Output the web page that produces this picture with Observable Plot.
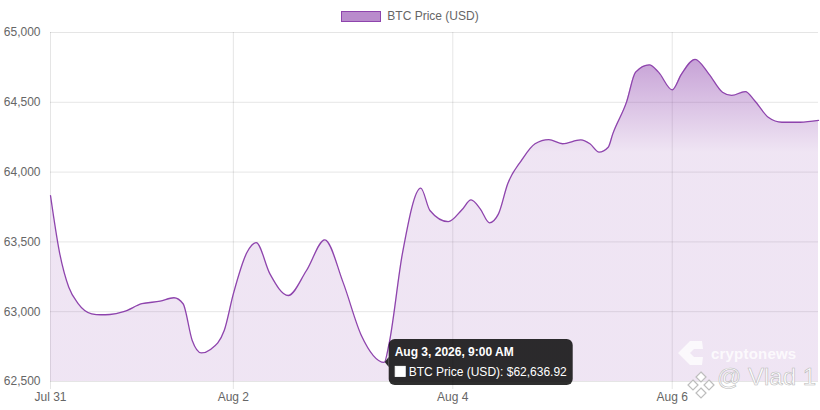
<!DOCTYPE html>
<html>
<head>
<meta charset="utf-8">
<script src="https://cdn.jsdelivr.net/npm/d3@7"></script>
<script src="https://cdn.jsdelivr.net/npm/@observablehq/plot@0.6"></script>
<style>
  html, body { margin: 0; padding: 0; background: #fff; }
  body { width: 820px; height: 410px; position: relative; overflow: hidden;
         font-family: "Liberation Sans", Arial, Helvetica, sans-serif; }
  #legend { height: 20px; padding-top: 6px; display: flex; justify-content: center; align-items: center;
            font-size: 12px; color: #666; }
  #legend .sw { width: 38px; height: 9px; background: rgba(142, 68, 173, 0.62);
                border: 1.5px solid #8e44ad; margin-right: 6px; }
  #chart svg { display: block; }
  #wm { position: absolute; left: 0; top: 0; width: 820px; height: 410px; pointer-events: none; }
  #wm .cn { position: absolute; left: 711px; top: 345px; font-size: 15px; font-weight: bold;
            color: rgba(255,255,255,0.8); letter-spacing: 0.2px; }
  #wm .vl { position: absolute; left: 717px; top: 363px; font-size: 24px; color: #fff;
            -webkit-text-stroke: 0.6px #b9b9b9; }
</style>
</head>
<body>
<div id="legend"><div class="sw"></div><span>BTC Price (USD)</span></div>
<div id="chart"></div>
<div id="wm">
  <svg width="820" height="410" style="position:absolute;left:0;top:0">
    <path d="M690,341 L702,341 L703,349 L694,349 L690,353 L694,357 L703,357 L702,365 L690,365 L678,353 Z" fill="rgba(255,255,255,0.75)"/>
    <g fill="none" stroke="#bdbdbd" stroke-width="1.2">
      <path d="M701,372 L706,377 L701,382 L696,377 Z" fill="#fff"/>
      <path d="M701,388 L706,393 L701,398 L696,393 Z" fill="#fff"/>
      <path d="M693,380 L698,385 L693,390 L688,385 Z" fill="#fff"/>
      <path d="M709,380 L714,385 L709,390 L704,385 Z" fill="#fff"/>
    </g>
  </svg>
  <div class="cn">cryptonews</div>
  <div class="vl">@ Vlad 1</div>
</div>
<script>
// ---- Data ----
const times = [
  "2026-07-31 08:00","2026-07-31 10:00","2026-07-31 12:00","2026-07-31 14:00","2026-07-31 17:00",
  "2026-07-31 19:00","2026-07-31 21:00","2026-08-01 00:00","2026-08-01 04:00","2026-08-01 08:00",
  "2026-08-01 11:00","2026-08-01 13:00","2026-08-01 15:00","2026-08-01 17:00","2026-08-01 19:00",
  "2026-08-01 22:00","2026-08-02 00:00","2026-08-02 03:00","2026-08-02 05:00","2026-08-02 08:00",
  "2026-08-02 12:00","2026-08-02 16:00","2026-08-02 20:00","2026-08-03 00:00","2026-08-03 04:00",
  "2026-08-03 09:00","2026-08-03 10:00","2026-08-03 13:00","2026-08-03 17:00","2026-08-03 19:00",
  "2026-08-03 23:00","2026-08-04 02:00","2026-08-04 04:00","2026-08-04 06:00","2026-08-04 08:00",
  "2026-08-04 10:00","2026-08-04 12:00","2026-08-04 15:00","2026-08-04 18:00","2026-08-04 21:00",
  "2026-08-05 00:00","2026-08-05 04:00","2026-08-05 06:00","2026-08-05 08:00","2026-08-05 10:00",
  "2026-08-05 11:00","2026-08-05 14:00","2026-08-05 16:00","2026-08-05 19:00","2026-08-05 21:00",
  "2026-08-06 00:00","2026-08-06 02:00","2026-08-06 05:00","2026-08-06 08:00","2026-08-06 11:00",
  "2026-08-06 13:00","2026-08-06 16:00","2026-08-06 18:00","2026-08-06 21:00","2026-08-07 00:00",
  "2026-08-07 04:00","2026-08-07 08:00"
];
const prices = [
  63832, 63420, 63175, 63060, 62985,
  62978, 62980, 63000, 63057, 63075,
  63100, 63057, 62794, 62705, 62730,
  62865, 63128, 63426, 63495, 63271,
  63116, 63295, 63515, 63210, 62830,
  62636.92, 62760, 63420, 63885, 63725,
  63645, 63730, 63801, 63737, 63637,
  63701, 63915, 64083, 64203, 64233,
  64203, 64231, 64203, 64143, 64178,
  64274, 64501, 64716, 64768, 64716,
  64589, 64700, 64807, 64704, 64572,
  64549, 64577, 64513, 64393, 64357,
  64357, 64370
];
const yTicks = [62500, 63000, 63500, 64000, 64500, 65000];
const xTickTimes = ["2026-07-31 08:00", "2026-08-02 00:00", "2026-08-04 00:00", "2026-08-06 00:00"];
const xTickLabels = ["Jul 31", "Aug 2", "Aug 4", "Aug 6"];
const seriesName = "BTC Price (USD)";
const tooltipTime = "2026-08-03 09:00";
const gradTopValue = 65000, gradBottomValue = 64140;

// ---- Build ----
const parse = d3.timeParse("%Y-%m-%d %H:%M");
const data = times.map((t, i) => ({date: parse(t), price: prices[i]}));
const xTicks = xTickTimes.map(parse);
const labelOf = new Map(xTicks.map((d, i) => [+d, xTickLabels[i]]));
const font = '"Liberation Sans", Arial, Helvetica, sans-serif';

const chart = Plot.plot({
  width: 820,
  height: 384,
  marginTop: 6,
  marginBottom: 29,
  marginLeft: 50,
  marginRight: 2,
  style: {fontFamily: font, fontSize: "12px", color: "#666", background: "transparent", overflow: "visible"},
  x: {type: "time", domain: [data[0].date, data[data.length - 1].date], label: null},
  y: {domain: [yTicks[0], yTicks[yTicks.length - 1]], label: null},
  marks: [
    Plot.gridY(yTicks, {stroke: "#000", strokeOpacity: 0.1, strokeWidth: 1}),
    Plot.gridX(xTicks, {stroke: "#000", strokeOpacity: 0.1, strokeWidth: 1}),
    Plot.areaY(data, {x: "date", y1: yTicks[0], y2: "price", fill: "url(#btcGrad)", curve: "monotone-x"}),
    Plot.lineY(data, {x: "date", y: "price", stroke: "#8e44ad", strokeWidth: 1.3, curve: "monotone-x"}),
    Plot.axisY(yTicks, {tickSize: 0, tickPadding: 10, tickFormat: d3.format(","), fill: "#666", label: null}),
    Plot.axisX(xTicks, {tickSize: 8, tickPadding: 3, stroke: "#000", strokeOpacity: 0.1,
                        tickFormat: d => labelOf.get(+d), fill: "#666", label: null})
  ]
});
document.getElementById("chart").appendChild(chart);

const xs = chart.scale("x"), ys = chart.scale("y");
const svg = d3.select(chart);

// gradient fill
const grad = svg.insert("defs", ":first-child").append("linearGradient")
  .attr("id", "btcGrad").attr("gradientUnits", "userSpaceOnUse")
  .attr("x1", 0).attr("x2", 0)
  .attr("y1", ys.apply(gradTopValue)).attr("y2", ys.apply(gradBottomValue));
grad.append("stop").attr("offset", 0).attr("stop-color", "#8e44ad").attr("stop-opacity", 0.6);
grad.append("stop").attr("offset", 1).attr("stop-color", "#8e44ad").attr("stop-opacity", 0.14);

// tooltip at the highlighted point
const tp = data.find(d => +d.date === +parse(tooltipTime));
const px = xs.apply(tp.date), py = ys.apply(tp.price);
const bw = 184, bh = 46, bl = px + 5, bt = py - bh / 2;
const tip = svg.append("g").attr("font-family", font).attr("font-size", 12).attr("text-anchor", "start");
tip.append("rect").attr("x", bl).attr("y", bt).attr("width", bw).attr("height", bh)
  .attr("rx", 6).attr("fill", "rgba(0,0,0,0.82)");
tip.append("path").attr("d", `M${bl},${py - 5}L${px + 1},${py}L${bl},${py + 5}Z`).attr("fill", "rgba(0,0,0,0.82)");
tip.append("text").attr("x", bl + 6).attr("y", bt + 17).attr("fill", "#fff").attr("font-weight", "bold")
  .attr("text-anchor", "start")
  .text(d3.timeFormat("%b %-d, %Y, %-I:%M %p")(tp.date));
tip.append("rect").attr("x", bl + 6.5).attr("y", bt + 27.5).attr("width", 10).attr("height", 10)
  .attr("fill", "#fff").attr("stroke", "#fff");
tip.append("text").attr("x", bl + 20).attr("y", bt + 37).attr("fill", "#fff")
  .attr("text-anchor", "start")
  .text(`${seriesName}: $${d3.format(",.2f")(tp.price)}`);
</script>
</body>
</html>
